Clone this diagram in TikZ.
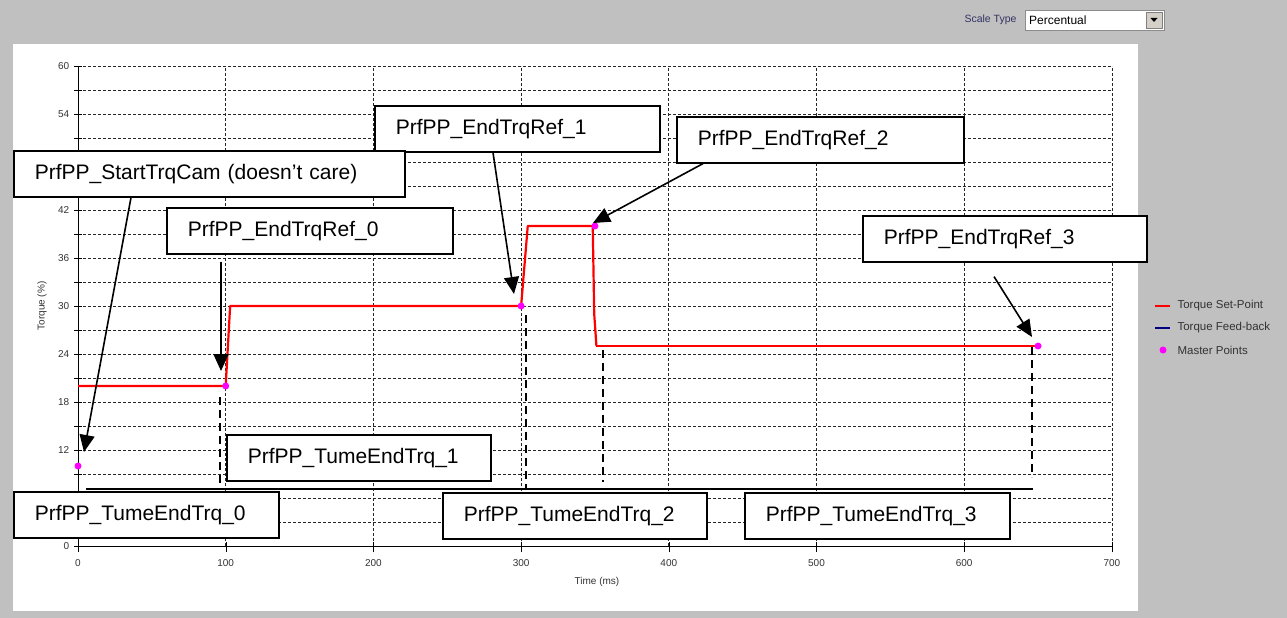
\documentclass[tikz,border=0pt]{standalone}
\usepackage{fontspec}
\setmainfont{Liberation Sans}
\usetikzlibrary{arrows.meta}
\definecolor{panelgray}{RGB}{192,192,192}
\definecolor{setpointred}{RGB}{255,0,0}
\definecolor{feedbacknavy}{RGB}{0,0,128}
\definecolor{masterpink}{RGB}{255,0,255}
\definecolor{scaleblue}{RGB}{51,51,102}
\definecolor{buttongray}{RGB}{212,208,200}

\begin{document}
\begin{tikzpicture}[x=1pt,y=-1pt,
    tagbox/.style={draw,line width=1.6pt,fill=white,font=\fontsize{21}{24}\selectfont,
      minimum height=46pt,inner xsep=21pt,inner ysep=0pt,align=left,anchor=north west},
    callout/.style={line width=1.6pt,-{Triangle[length=17pt,width=15pt]}},
    gridline/.style={black!85,line width=0.7pt,dash pattern=on 3pt off 2pt},
    marker/.style={black,line width=2pt,dash pattern=on 8pt off 5pt},
    ticklabel/.style={black!80,font=\fontsize{10}{12}\selectfont},
    legendtext/.style={black!80,font=\fontsize{11.5}{13}\selectfont,anchor=west}]
  % background and chart panel
  \fill[panelgray] (0,0) rectangle (1287,618);
  \useasboundingbox (0,0) rectangle (1287,618);
  \fill[white] (13,44) rectangle (1138,611);
  % scale type selector
  \node[scaleblue,font=\fontsize{10.5}{12}\selectfont,anchor=east] (scalelabel) at (1020,20) {Scale Type};
  \filldraw[fill=white,draw=black!45] (1025,10) rectangle (1164,30);
  \node[font=\fontsize{12}{14}\selectfont,anchor=west,inner sep=0pt] (scaletype) at (1029,20) {Percentual};
  \filldraw[fill=buttongray,draw=black!50] (1146,12) rectangle (1162,28);
  \fill (1150.5,18) -- (1157.5,18) -- (1154,22) -- cycle;
  % plot in data units
  \begin{scope}[shift={(78,546)},x=1.477pt,y=8pt]
    \foreach \v in {3,6,...,60} \draw[gridline] (0,\v) -- (700,\v);
    \foreach \t in {100,200,...,700} \draw[gridline] (\t,0) -- (\t,60);
    \draw (0,0) -- (0,60);
    \draw (0,0) -- (700,0);
    \foreach \v in {0,3,...,60} \draw (-2.7,\v) -- (2.7,\v);
    % 6 and 48 sit under the boxes
    \foreach \v in {0,12,18,24,30,36,42,54,60} \node[ticklabel,anchor=east] at (-3.5,\v) {\v};
    \foreach \t in {0,100,...,700} {
      \draw (\t,-0.75) -- (\t,0.5);
      \node[ticklabel] at (\t,-2.1) {\t};
    }
    % torque set-point
    \draw[setpointred,line width=2.2pt,line join=round] (0,20) -- (100,20) -- (101.5,25) -- (103,30)
      -- (300,30) -- (304.5,40) -- (348.5,40) -- (349.5,29) -- (351,25);
    \draw[setpointred,line width=1.6pt] (351,25) -- (650,25);
    % master points
    \foreach \t/\v in {0/10,100/20,300/30,350/40,650/25}
      \fill[masterpink] (\t,\v) circle[radius=3.5pt];
  \end{scope}
  \node[ticklabel] (timelabel) at (597,582) {Time (ms)};
  \node[ticklabel,rotate=90] (torquelabel) at (42,306) {Torque (\%)};
  % time markers
  \draw[line width=2.5pt] (86,489) -- (1033,489);
  \draw[marker] (220,397) -- (220,489);
  \draw[marker] (526,315) -- (526,489);
  \draw[marker] (603,350) -- (603,482);
  \draw[marker] (1032,347) -- (1032,477);
  % legend
  \draw[setpointred,line width=2pt] (1155,306) -- (1170,306);
  \draw[feedbacknavy,line width=2pt] (1155,328) -- (1170,328);
  \fill[masterpink] (1163,350) circle[radius=3.5pt];
  \node[legendtext] (setpoint) at (1174,306) {Torque Set-Point};
  \node[legendtext] (feedback) at (1174,328) {Torque Feed-back};
  \node[legendtext] (master) at (1174,350) {Master Points};
  % parameter boxes
  \node[tagbox,text width=243pt] (ref1) at (374,105) {PrfPP\_EndTrqRef\_1};
  \node[tagbox,text width=349pt] (cam) at (13,150) {PrfPP\_StartTrqCam (doesn’t care)};
  \node[tagbox,text width=244pt] (ref0) at (166,207) {PrfPP\_EndTrqRef\_0};
  \node[tagbox,text width=245pt] (ref2) at (676,116) {PrfPP\_EndTrqRef\_2};
  \node[tagbox,text width=242pt] (ref3) at (862,215) {PrfPP\_EndTrqRef\_3};
  \node[tagbox,text width=222pt] (tume1) at (226,434) {PrfPP\_TumeEndTrq\_1};
  \node[tagbox,text width=223pt] (tume0) at (13,491) {PrfPP\_TumeEndTrq\_0};
  \node[tagbox,text width=222pt] (tume2) at (442,492) {PrfPP\_TumeEndTrq\_2};
  \node[tagbox,text width=223pt] (tume3) at (744,492) {PrfPP\_TumeEndTrq\_3};
  % arrow tips at the master points
  \coordinate (tip0) at (84,452);
  \coordinate (tip1) at (221,371);
  \coordinate (tip2) at (514,294);
  \coordinate (tip3) at (593,223);
  \coordinate (tip4) at (1032,337);
  \draw[callout] ([xshift=118pt]cam.south west) -- (tip0);
  \draw[callout] ([xshift=55pt,yshift=-7pt]ref0.south west) -- (tip1);
  \draw[callout] ([xshift=119pt]ref1.south west) -- (tip2);
  \draw[callout] ([xshift=27pt]ref2.south west) -- (tip3);
  \draw[callout] ([xshift=132pt,yshift=-14pt]ref3.south west) -- (tip4);
\end{tikzpicture}
\end{document}
